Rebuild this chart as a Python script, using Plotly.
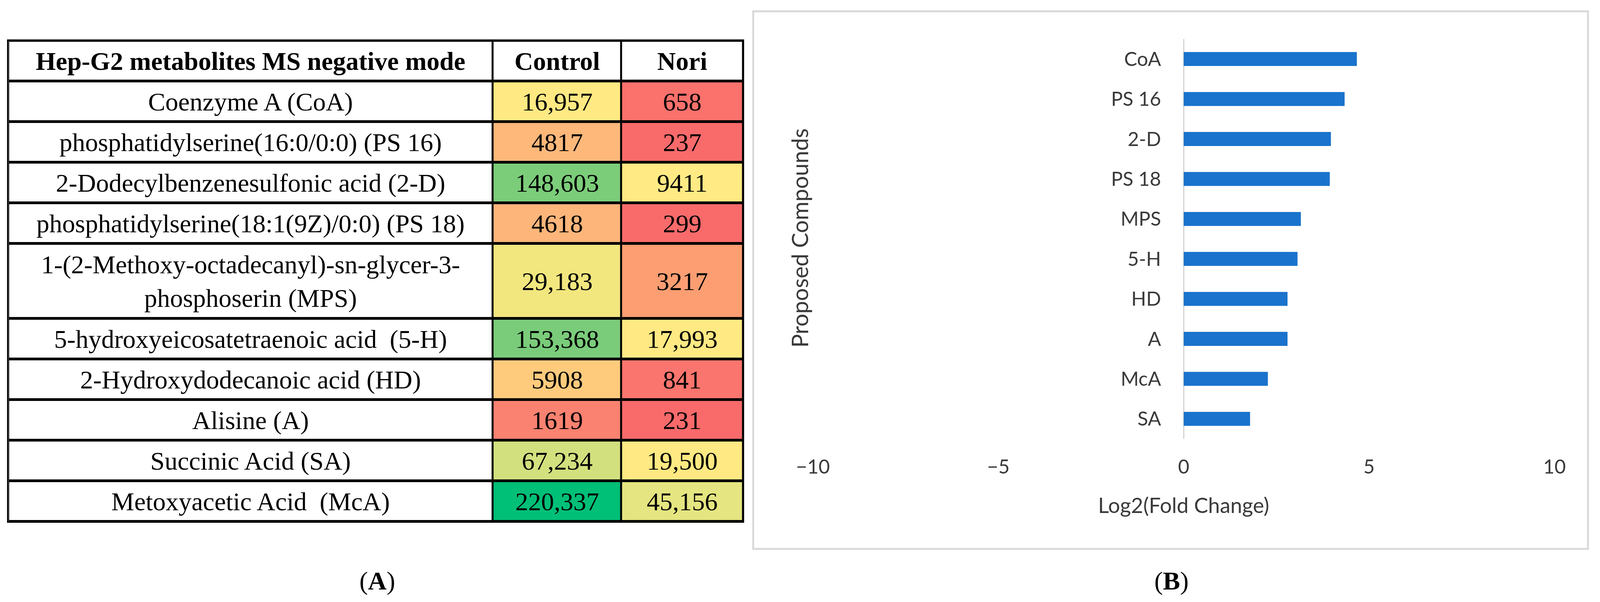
import plotly.graph_objects as go

# ---------------- data ----------------
metabolites = [
    "Coenzyme A (CoA)",
    "phosphatidylserine(16:0/0:0) (PS 16)",
    "2-Dodecylbenzenesulfonic acid (2-D)",
    "phosphatidylserine(18:1(9Z)/0:0) (PS 18)",
    "1-(2-Methoxy-octadecanyl)-sn-glycer-3-<br>phosphoserin (MPS)",
    "5-hydroxyeicosatetraenoic acid  (5-H)",
    "2-Hydroxydodecanoic acid (HD)",
    "Alisine (A)",
    "Succinic Acid (SA)",
    "Metoxyacetic Acid  (McA)",
]
control = [16957, 4817, 148603, 4618, 29183, 153368, 5908, 1619, 67234, 220337]
nori = [658, 237, 9411, 299, 3217, 17993, 841, 231, 19500, 45156]
header = ["Hep-G2 metabolites MS negative mode", "Control", "Nori"]

compounds = ["CoA", "PS 16", "2-D", "PS 18", "MPS", "5-H", "HD", "A", "McA", "SA"]
log2fc = [4.67, 4.34, 3.97, 3.94, 3.16, 3.07, 2.80, 2.80, 2.27, 1.79]

# ---------------- styles ----------------
W, H = 4393, 1542
control_colors = ["#FFE982", "#FDB87A", "#7CCD7A", "#FDB57A", "#F2E67F",
                  "#7ACC7A", "#FECB7D", "#FA8270", "#D2E07E", "#00BF77"]
nori_colors = ["#FB716C", "#F96A6B", "#FFEA84", "#F96B6B", "#FC9E72",
               "#FFE983", "#FA756D", "#F96A6B", "#FEE982", "#E5E581"]
row_units = [1, 1, 1, 1, 1, 1.85, 1, 1, 1, 1, 1]   # header + 10 rows
col_units = [1330, 353, 334]
SERIF = "Liberation Serif, Times New Roman, serif"
SANS = "Lato, Calibri, Carlito, sans-serif"
BAR_COLOR = "#1A73CC"
TXT_GRAY = "#3A3A3A"


def fx(px):
    return px / W


def fy(py):
    return 1 - py / H


def fmt(v):
    return f"{v:,}" if v >= 10000 else str(v)


# ---------------- table as heatmap ----------------
y_edges = [0]
for u in row_units:
    y_edges.append(y_edges[-1] + u)
x_edges = [0]
for u in col_units:
    x_edges.append(x_edges[-1] + u)

cell_colors = []
z, text = [], []
row_z = []
for j, h in enumerate(header):
    cell_colors.append("#FFFFFF")
    row_z.append(len(cell_colors) - 1)
z.append(row_z)
text.append([f"<b>{h}</b>" for h in header])
for i, name in enumerate(metabolites):
    row_z = []
    cell_colors.append("#FFFFFF")
    row_z.append(len(cell_colors) - 1)
    cell_colors.append(control_colors[i])
    row_z.append(len(cell_colors) - 1)
    cell_colors.append(nori_colors[i])
    row_z.append(len(cell_colors) - 1)
    z.append(row_z)
    text.append([name, fmt(control[i]), fmt(nori[i])])

n = len(cell_colors)
colorscale = [[k / (n - 1), c] for k, c in enumerate(cell_colors)]

fig = go.Figure()

fig.add_trace(go.Heatmap(
    z=z, x=x_edges, y=y_edges, text=text, texttemplate="%{text}",
    textfont=dict(family=SERIF, size=66, color="black"),
    colorscale=colorscale, zmin=0, zmax=n - 1, showscale=False,
    xgap=5, ygap=7, hoverinfo="skip",
    xaxis="x2", yaxis="y2",
))

# ---------------- bar chart ----------------
fig.add_trace(go.Bar(
    x=log2fc, y=compounds, orientation="h", width=0.35,
    marker=dict(color=BAR_COLOR, line=dict(width=0)),
    hoverinfo="skip", xaxis="x", yaxis="y",
))

xr = [-10, 10]
xdom = [fx(2232), fx(4268)]
zero_pos = xdom[0] + (0 - xr[0]) / (xr[1] - xr[0]) * (xdom[1] - xdom[0])

fig.update_layout(
    autosize=True,
    margin=dict(l=0, r=0, t=0, b=0, pad=0),
    paper_bgcolor="white", plot_bgcolor="white",
    showlegend=False,
    xaxis=dict(
        domain=xdom, range=xr, tickvals=[-10, -5, 0, 5, 10],
        showgrid=False, showline=False, ticks="", automargin=False,
        zeroline=True, zerolinecolor="#D4D4D4", zerolinewidth=3,
        tickfont=dict(family=SANS, size=50, color=TXT_GRAY),
        ticklabelstandoff=38, anchor="y", fixedrange=True,
    ),
    yaxis=dict(
        domain=[fy(1124), fy(100)], type="category", autorange="reversed",
        showgrid=False, showline=False, zeroline=False, ticks="", automargin=False,
        tickfont=dict(family=SANS, size=50, color=TXT_GRAY),
        anchor="free", position=zero_pos, ticklabelstandoff=58,
        fixedrange=True,
    ),
    xaxis2=dict(
        domain=[fx(23), fx(2040)], range=[x_edges[0], x_edges[-1]],
        showgrid=False, zeroline=False, showticklabels=False, ticks="", automargin=False,
        showline=True, mirror=True, linecolor="black", linewidth=3,
        anchor="y2", fixedrange=True,
    ),
    yaxis2=dict(
        domain=[fy(1336), fy(104)], range=[y_edges[-1], y_edges[0]],
        showgrid=False, zeroline=False, showticklabels=False, ticks="", automargin=False,
        showline=True, mirror=True, linecolor="black", linewidth=3,
        anchor="x2", fixedrange=True,
    ),
    shapes=[
        dict(type="rect", xref="x2 domain", yref="y2 domain", x0=0, x1=1, y0=0, y1=1,
             fillcolor="black", line=dict(width=0), layer="below"),
        dict(type="rect", xref="paper", yref="paper",
             x0=fx(2068), x1=fx(4360), y0=fy(1406), y1=fy(29),
             fillcolor="rgba(0,0,0,0)", line=dict(color="#D9D9D9", width=5), layer="below"),
    ],
    annotations=[
        dict(text="Log2(Fold Change)", x=fx(3250), y=fy(1293), xref="paper", yref="paper",
             showarrow=False, xanchor="center", yanchor="middle",
             font=dict(family=SANS, size=54, color=TXT_GRAY)),
        dict(text="Proposed Compounds", x=fx(2195), y=fy(610), xref="paper", yref="paper",
             showarrow=False, xanchor="center", yanchor="middle", textangle=-90,
             font=dict(family=SANS, size=58, color=TXT_GRAY)),
        dict(text="(<b>A</b>)", x=fx(1036), y=fy(1488), xref="paper", yref="paper",
             showarrow=False, xanchor="center", yanchor="middle",
             font=dict(family=SERIF, size=66, color="black")),
        dict(text="(<b>B</b>)", x=fx(3216), y=fy(1488), xref="paper", yref="paper",
             showarrow=False, xanchor="center", yanchor="middle",
             font=dict(family=SERIF, size=66, color="black")),
    ],
)

post = (
    "document.documentElement.style.margin='0';"
    "document.body.style.margin='0';"
    "document.documentElement.style.overflow='hidden';"
    "document.body.style.overflow='hidden';"
    "var gd=document.getElementById('{plot_id}');"
    "Plotly.Plots.resize(gd);"
)

fig.write_html(
    "out.html",
    config={"displayModeBar": False, "responsive": True},
    default_width="100vw", default_height="100vh",
    post_script=post,
)
